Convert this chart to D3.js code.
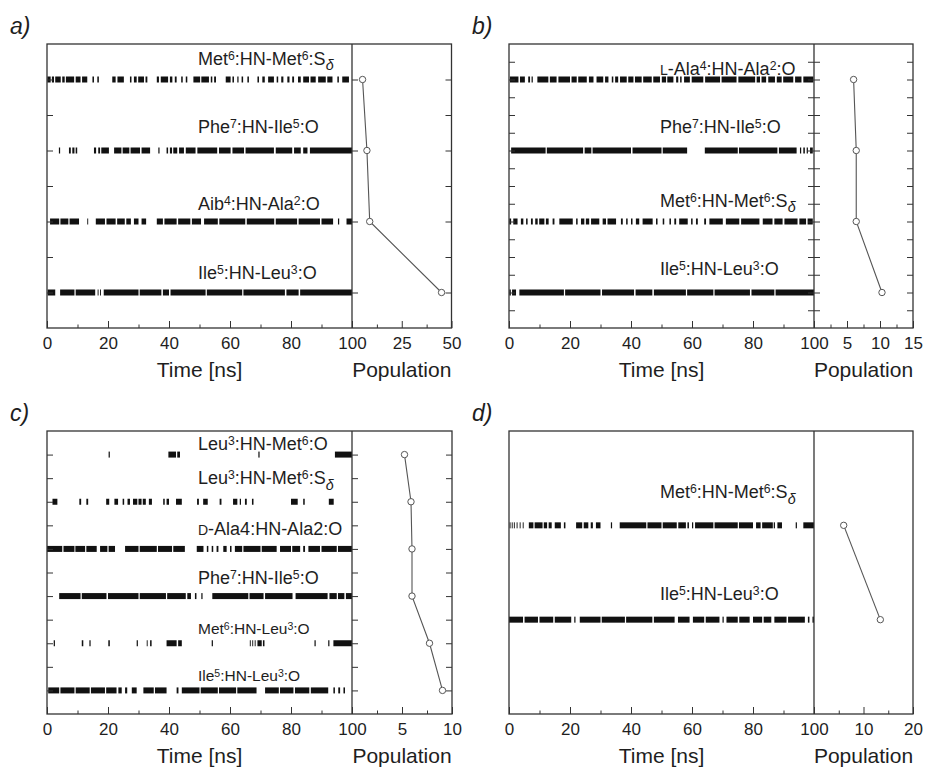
<!DOCTYPE html>
<html>
<head>
<meta charset="utf-8">
<script src="https://cdn.jsdelivr.net/npm/d3@7"></script>
<style>
body { margin: 0; background: #fff; }
svg text { font-family: "Liberation Sans", Arial, sans-serif; fill: #1e1e1e; }
</style>
</head>
<body>
<div id="chart"></div>
<script>
// time axis ticks (ns)
var timeTicks = [0, 20, 40, 60, 80, 100];
var timeMinor = [10, 30, 50, 70, 90];

// labels use ^{..} superscript, _{..} subscript, ~{..} small caps
var labelsA = ["Met^{6}:HN-Met^{6}:S_{δ}", "Phe^{7}:HN-Ile^{5}:O", "Aib^{4}:HN-Ala^{2}:O", "Ile^{5}:HN-Leu^{3}:O"];
var populationA = [5.3, 7.5, 8.9, 45];
var eventsA = [
  [[0.1,1.2],[1.6,2.3],[2.7,4.5],[5.0,5.8],[6.2,8.9],[9.4,11.0],[11.5,13.2],[14.9,15.4],[16.5,17.0],[21.4,22.5],[23.1,25.2],[27.2,27.7],[28.5,29.4],[29.9,31.8],[32.3,32.9],[36.0,36.7],[37.3,39.7],[40.3,41.1],[41.9,42.5],[44.0,44.5],[45.5,46.0],[48.0,50.2],[50.6,53.1],[53.7,54.2],[54.8,55.4],[58.6,60.2],[60.8,61.3],[62.4,62.8],[63.8,64.3],[65.7,66.2],[69.0,69.5],[70.6,71.4],[72.5,74.4],[75.3,75.8],[76.8,77.5],[78.8,79.5],[80.4,81.0],[82.3,83.2],[84.0,85.9],[86.4,88.1],[88.9,91.4],[91.9,93.6],[95.2,95.7],[96.8,99.0]],
  [[3.9,4.3],[7.2,7.8],[8.3,9.0],[9.4,9.9],[15.4,16.1],[16.8,17.4],[17.8,20.3],[22.0,24.4],[24.8,27.0],[27.4,30.5],[31.0,33.8],[36.5,36.9],[39.2,39.7],[40.3,41.0],[41.4,42.7],[43.3,44.9],[45.5,48.7],[49.3,55.8],[56.4,60.2],[60.8,64.6],[65.1,74.4],[75.0,80.4],[81.0,83.2],[84.0,85.4],[86.2,100]],
  [[1.0,4.0],[4.4,7.0],[7.4,10.5],[13.2,13.5],[16.0,19.0],[19.5,22.5],[23.0,25.5],[26.0,27.5],[28.5,30.0],[31.0,32.5],[36.0,38.0],[38.5,42.5],[43.0,47.0],[47.5,50.5],[51.5,56.0],[56.5,65.0],[65.5,74.5],[75.0,82.0],[82.5,89.5],[90.0,93.8],[95.4,95.8],[98.2,100]],
  [[0.2,2.7],[4.3,9.0],[9.4,15.8],[16.6,16.9],[17.4,17.7],[18.6,30.0],[30.4,37.5],[38.0,40.0],[40.5,52.0],[52.4,64.0],[64.4,78.0],[78.5,82.5],[83.0,100]]
];

var labelsB = ["~{L}-Ala^{4}:HN-Ala^{2}:O", "Phe^{7}:HN-Ile^{5}:O", "Met^{6}:HN-Met^{6}:S_{δ}", "Ile^{5}:HN-Leu^{3}:O"];
var populationB = [6.0, 6.4, 6.4, 10.3];
var eventsB = [
  [[0.3,3.1],[3.6,5.2],[6.3,6.9],[7.4,7.8],[9.3,12.9],[13.4,15.6],[16.2,20.0],[20.5,22.2],[22.7,25.5],[26.2,27.7],[28.7,30.9],[31.5,32.6],[33.7,34.2],[34.8,35.8],[36.4,38.6],[39.1,40.8],[41.3,43.5],[44.0,46.8],[47.3,49.5],[50.1,51.5],[51.9,53.9],[54.8,55.5],[56.1,56.6],[57.4,59.3],[59.9,63.7],[64.3,69.2],[69.7,74.6],[75.2,80.7],[81.2,82.3],[82.8,84.3],[85.0,87.2],[87.8,89.4],[89.9,93.2],[93.8,95.9],[96.5,99.8]],
  [[0.7,12.0],[12.4,24.3],[24.8,27.0],[27.4,40.0],[40.5,50.0],[50.4,58.4],[64.2,75.0],[75.4,88.0],[88.5,94.3],[95.4,95.8],[96.5,97.0],[97.6,98.0],[98.7,99.6]],
  [[0.1,0.7],[1.4,2.8],[3.9,4.7],[5.6,6.1],[7.2,7.8],[8.6,9.4],[9.9,11.6],[12.1,13.0],[14.3,14.9],[16.5,20.9],[22.0,22.5],[23.6,24.7],[25.2,26.3],[26.9,29.6],[30.7,31.8],[32.3,35.1],[36.7,37.3],[38.4,38.9],[40.0,40.5],[41.6,42.7],[43.8,47.1],[48.2,48.7],[50.4,50.9],[52.6,53.1],[54.2,54.8],[55.8,58.6],[59.7,60.2],[61.3,61.9],[64.0,64.6],[65.7,70.1],[71.1,75.5],[76.1,82.1],[83.2,86.4],[87.0,89.7],[90.3,94.6],[95.2,97.4],[97.9,99.6]],
  [[0.1,0.6],[1.0,2.3],[3.4,18.0],[18.4,30.0],[30.5,41.0],[41.5,47.0],[47.5,58.0],[58.4,67.0],[67.4,79.0],[79.5,87.0],[87.4,100]]
];

var labelsC = ["Leu^{3}:HN-Met^{6}:O", "Leu^{3}:HN-Met^{6}:S_{δ}", "~{D}-Ala4:HN-Ala2:O", "Phe^{7}:HN-Ile^{5}:O", "Met^{6}:HN-Leu^{3}:O", "Ile^{5}:HN-Leu^{3}:O"];
var populationC = [5.25, 5.9, 6.0, 6.0, 7.75, 9.05];
var eventsC = [
  [[20.2,20.6],[39.8,42.3],[42.7,43.6],[69.3,69.7],[94.4,100]],
  [[1.8,3.4],[10.6,11.2],[12.9,13.5],[19.4,20.4],[22.1,23.3],[24.8,25.3],[26.4,27.2],[28.2,29.6],[30.0,31.0],[31.4,32.4],[33.4,34.4],[38.1,38.6],[39.2,40.0],[42.3,44.2],[49.2,49.8],[51.2,52.7],[56.6,57.2],[61.0,62.4],[63.2,63.6],[64.9,65.5],[67.2,67.7],[80.0,82.2],[84.0,84.5],[92.4,94.0]],
  [[0,5.0],[5.4,9.0],[9.3,12.5],[12.9,16.3],[17.4,19.8],[20.2,22.3],[25.6,30.0],[30.4,36.0],[36.4,41.0],[41.4,45.2],[49.1,51.3],[52.4,52.9],[54.0,54.5],[55.6,56.2],[57.8,58.9],[60.0,60.5],[61.6,64.0],[64.4,70.0],[70.4,75.3],[76.4,80.0],[80.4,83.0],[84.0,84.6],[85.7,89.5],[90.0,95.0],[95.4,100]],
  [[4.0,11.0],[11.4,19.5],[20.0,30.0],[30.4,39.0],[39.4,45.5],[46.0,47.2],[48.5,49.0],[50.6,51.0],[54.2,66.0],[66.4,71.0],[71.5,80.5],[81.5,92.0],[92.6,95.0],[95.4,97.5],[98.0,100]],
  [[2.2,2.6],[11.4,11.9],[13.9,14.3],[20.1,20.6],[29.4,29.8],[32.7,33.0],[33.8,34.3],[39.2,42.5],[43.0,44.2],[54.0,54.4],[66.5,66.8],[67.3,67.6],[68.1,68.4],[69.0,70.4],[70.8,71.3],[87.7,88.1],[92.2,92.6],[93.9,100]],
  [[0.4,4.0],[4.4,9.0],[9.4,14.0],[14.4,19.0],[19.4,22.8],[23.4,24.5],[25.6,26.3],[27.8,29.4],[31.6,35.0],[35.4,39.2],[42.5,43.1],[44.2,50.0],[50.4,56.0],[56.4,62.0],[62.4,68.7],[71.5,76.0],[76.4,80.8],[81.3,86.0],[86.5,92.2],[93.9,94.4],[95.5,96.1],[97.2,97.7]]
];

var labelsD = ["Met^{6}:HN-Met^{6}:S_{δ}", "Ile^{5}:HN-Leu^{3}:O"];
var populationD = [6.0, 13.4];
var eventsD = [
  [[0.2,0.5],[0.9,1.2],[1.6,1.9],[2.5,2.8],[3.5,3.8],[4.5,4.8],[6.5,8.0],[8.4,11.0],[11.4,12.5],[13.0,14.0],[15.0,17.0],[18.0,18.5],[22.0,24.0],[24.5,26.0],[26.8,27.5],[28.5,30.0],[33.4,33.8],[36.3,45.0],[45.4,50.0],[50.4,55.0],[55.5,58.0],[58.5,59.0],[60.0,60.4],[61.0,67.0],[67.4,75.0],[75.4,80.0],[81.0,82.5],[83.0,86.5],[86.8,87.2],[88.0,89.5],[94.0,94.4],[96.5,100]],
  [[0,4.6],[5.1,9.5],[10.0,14.5],[15.0,20.4],[21.4,21.8],[23.2,30.0],[30.4,38.0],[38.4,47.0],[47.5,54.3],[55.4,59.2],[60.3,64.0],[64.5,69.0],[70.0,70.4],[71.3,75.0],[75.5,78.9],[80.0,83.0],[83.5,86.0],[87.0,91.0],[91.5,97.0],[98.0,98.5],[99.5,100]]
];

// layout of the four panels
var panels = [
  { tag: "a", labels: labelsA, population: populationA, events: eventsA,
    popMax: 50, popStep: 12.5, popLabels: [25, 50],
    box: { left: 47, top: 44, mid: 352, right: 451.5, bottom: 328 },
    yDomain: [0.5, 4.5], yStep: 0.5, midTicks: "rows", midBoth: false,
    lift: [15, 18, 12, 14], fs: [18, 18, 18, 18] },
  { tag: "b", labels: labelsB, population: populationB, events: eventsB,
    popMax: 15, popStep: 2.5, popLabels: [5, 10, 15],
    box: { left: 509, top: 44, mid: 814, right: 913, bottom: 328 },
    yDomain: [0.5, 4.5], yStep: 0.25, midTicks: "all", midBoth: true,
    lift: [5, 18, 15, 18], fs: [18, 18, 18, 18] },
  { tag: "c", labels: labelsC, population: populationC, events: eventsC,
    popMax: 10, popStep: 2.5, popLabels: [5, 10],
    box: { left: 47, top: 431, mid: 352, right: 452, bottom: 714 },
    yDomain: [0.5, 6.5], yStep: 0.5, midTicks: "all", midBoth: false,
    lift: [5, 18, 14, 12, 9, 9], fs: [18, 18, 18, 18, 15.5, 15.5] },
  { tag: "d", labels: labelsD, population: populationD, events: eventsD,
    popMax: 20, popStep: 5, popLabels: [10, 20],
    box: { left: 509, top: 431, mid: 814, right: 913, bottom: 714 },
    yDomain: [0, 3], yStep: 0, midTicks: "none", midBoth: false,
    lift: [27, 20], fs: [18, 18] }
];

var svg = d3.select("#chart").append("svg")
    .attr("width", 925)
    .attr("height", 770);

function richText(sel, str, fs) {
    var re = /([\^_~])\{([^}]*)\}|([^\^_~]+)/g;
    var m, shift = 0;
    while ((m = re.exec(str)) !== null) {
        var t = sel.append("tspan");
        var target = 0;
        if (m[1] === "^") {
            target = -fs * 0.27;
            t.attr("font-size", fs * 0.68).text(m[2]);
        } else if (m[1] === "_") {
            target = fs * 0.32;
            t.attr("font-size", fs * 0.8).attr("font-style", "italic").text(m[2]);
        } else if (m[1] === "~") {
            t.attr("font-size", fs * 0.78).text(m[2]);
        } else {
            t.text(m[3]);
        }
        if (target !== shift) {
            t.attr("dy", target - shift);
            shift = target;
        }
    }
}

function cleanAxis(s) {
    s.select(".domain").remove();
    s.selectAll("line").attr("stroke", "#333").attr("stroke-width", 1);
    s.attr("font-family", null).attr("font-size", 17);
}

panels.forEach(function(p) {
    var b = p.box;
    var n = p.labels.length;
    var g = svg.append("g");

    var x = d3.scaleLinear().domain([0, 100]).range([b.left, b.mid]);
    var xp = d3.scaleLinear().domain([0, p.popMax]).range([b.mid, b.right]);
    var y = d3.scaleLinear().domain(p.yDomain).range([b.bottom, b.top]);
    var rowY = function(i) { return y(n - i); };

    // panel letter
    g.append("text")
        .attr("x", b.left - 37)
        .attr("y", b.top - 10)
        .attr("font-size", 23)
        .attr("font-style", "italic")
        .text(p.tag + ")");

    // H-bond occurrence bars
    p.events.forEach(function(row, i) {
        g.append("g").selectAll("rect")
            .data(row)
            .enter()
            .append("rect")
            .attr("x", function(d) { return x(d[0]); })
            .attr("width", function(d) { return Math.max(0.9, x(d[1]) - x(d[0])); })
            .attr("y", rowY(i) - 3)
            .attr("height", 6)
            .attr("fill", "#111");
    });

    // row labels
    p.labels.forEach(function(lab, i) {
        var t = g.append("text")
            .attr("x", x(49.5))
            .attr("y", rowY(i) - p.lift[i])
            .attr("font-size", p.fs[i]);
        richText(t, lab, p.fs[i]);
    });

    // y ticks
    var yTicks = [];
    if (p.yStep) {
        var steps = Math.round((p.yDomain[1] - p.yDomain[0]) / p.yStep);
        for (var k = 1; k < steps; k++) yTicks.push(p.yDomain[0] + k * p.yStep);
    }
    var rowTicks = d3.range(n).map(function(i) { return n - i; });

    g.append("g")
        .attr("transform", "translate(" + b.left + ",0)")
        .call(d3.axisRight(y).tickValues(yTicks).tickSize(6).tickFormat(""))
        .call(cleanAxis);
    g.append("g")
        .attr("transform", "translate(" + b.right + ",0)")
        .call(d3.axisLeft(y).tickValues(yTicks).tickSize(6).tickFormat(""))
        .call(cleanAxis);
    if (p.midTicks !== "none") {
        var mt = p.midTicks === "rows" ? rowTicks : yTicks;
        g.append("g")
            .attr("transform", "translate(" + b.mid + ",0)")
            .call(d3.axisRight(y).tickValues(mt).tickSize(6).tickFormat(""))
            .call(cleanAxis);
        if (p.midBoth) {
            g.append("g")
                .attr("transform", "translate(" + b.mid + ",0)")
                .call(d3.axisLeft(y).tickValues(mt).tickSize(6).tickFormat(""))
                .call(cleanAxis);
        }
    }

    // time axis
    g.append("g")
        .attr("transform", "translate(0," + b.bottom + ")")
        .call(d3.axisBottom(x).tickValues(timeMinor).tickSizeInner(-3.5).tickSizeOuter(0).tickFormat(""))
        .call(cleanAxis);
    g.append("g")
        .attr("transform", "translate(0," + b.bottom + ")")
        .call(d3.axisBottom(x).tickValues(timeTicks).tickSizeInner(-7).tickSizeOuter(0).tickPadding(9))
        .call(cleanAxis);

    // population axis
    var popAll = d3.range(p.popStep, p.popMax + 0.001, p.popStep);
    var popMinor = popAll.filter(function(v) { return p.popLabels.indexOf(v) < 0; });
    g.append("g")
        .attr("transform", "translate(0," + b.bottom + ")")
        .call(d3.axisBottom(xp).tickValues(popMinor).tickSizeInner(-3.5).tickSizeOuter(0).tickFormat(""))
        .call(cleanAxis);
    g.append("g")
        .attr("transform", "translate(0," + b.bottom + ")")
        .call(d3.axisBottom(xp).tickValues(p.popLabels).tickSizeInner(-7).tickSizeOuter(0).tickPadding(9))
        .call(cleanAxis);

    // axis titles
    g.append("text")
        .attr("x", (b.left + b.mid) / 2)
        .attr("y", b.bottom + 49)
        .attr("text-anchor", "middle")
        .attr("font-size", 21)
        .text("Time [ns]");
    g.append("text")
        .attr("x", (b.mid + b.right) / 2)
        .attr("y", b.bottom + 49)
        .attr("text-anchor", "middle")
        .attr("font-size", 21)
        .text("Population");

    // frame and divider
    g.append("rect")
        .attr("x", b.left)
        .attr("y", b.top)
        .attr("width", b.right - b.left)
        .attr("height", b.bottom - b.top)
        .attr("fill", "none")
        .attr("stroke", "#333")
        .attr("stroke-width", 1.3);
    g.append("line")
        .attr("x1", b.mid).attr("x2", b.mid)
        .attr("y1", b.top).attr("y2", b.bottom)
        .attr("stroke", "#333")
        .attr("stroke-width", 1.3);

    // population profile
    var pts = p.population.map(function(v, i) { return { v: v, i: i }; });
    var line = d3.line()
        .x(function(d) { return xp(d.v); })
        .y(function(d) { return rowY(d.i); });
    g.append("path")
        .datum(pts)
        .attr("d", line)
        .attr("fill", "none")
        .attr("stroke", "#555")
        .attr("stroke-width", 1.1);
    g.selectAll("circle.pt")
        .data(pts)
        .enter()
        .append("circle")
        .attr("class", "pt")
        .attr("cx", function(d) { return xp(d.v); })
        .attr("cy", function(d) { return rowY(d.i); })
        .attr("r", 3.2)
        .attr("fill", "#fff")
        .attr("stroke", "#555")
        .attr("stroke-width", 1);
});
</script>
</body>
</html>
